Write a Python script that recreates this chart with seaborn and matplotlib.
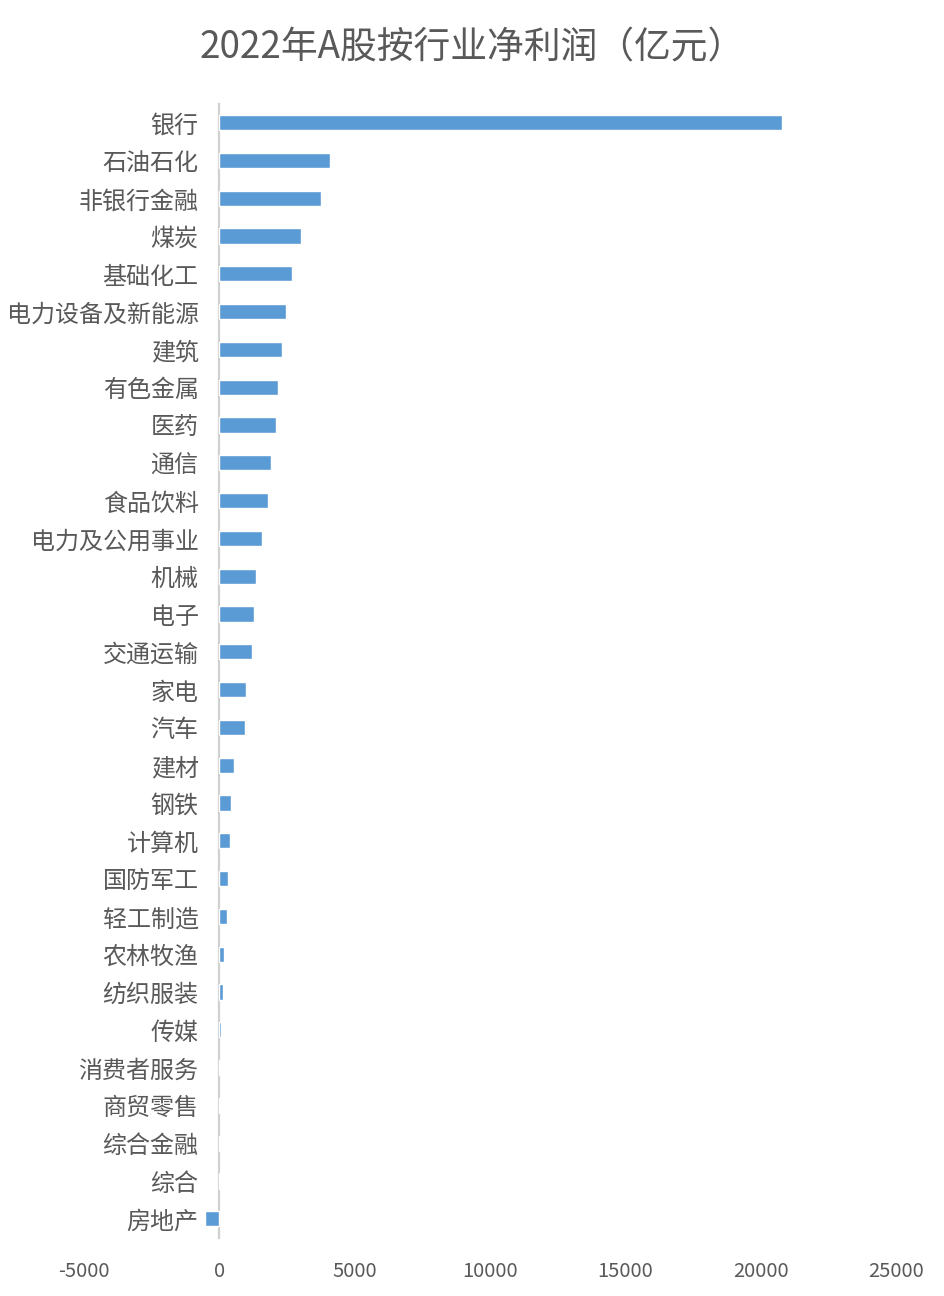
import matplotlib
matplotlib.use("Agg")
import matplotlib.pyplot as plt
import seaborn as sns
import pandas as pd

# 2022 A-share net profit by industry (100 million yuan)
industries = ["银行", "石油石化", "非银行金融", "煤炭", "基础化工", "电力设备及新能源",
              "建筑", "有色金属", "医药", "通信", "食品饮料", "电力及公用事业",
              "机械", "电子", "交通运输", "家电", "汽车", "建材", "钢铁", "计算机",
              "国防军工", "轻工制造", "农林牧渔", "纺织服装", "传媒", "消费者服务",
              "商贸零售", "综合金融", "综合", "房地产"]
profit = [20800, 4100, 3770, 3030, 2690, 2450,
          2330, 2180, 2080, 1920, 1810, 1590,
          1370, 1280, 1220, 1000, 960, 530, 445, 405,
          300, 295, 185, 150, 70, 30,
          25, 25, 5, -520]
xticks = [-5000, 0, 5000, 10000, 15000, 20000, 25000]

df = pd.DataFrame({"industry": industries, "profit": profit})

sns.set_style("white")
plt.rcParams["font.family"] = ["Noto Sans CJK SC", "DejaVu Sans"]
text_color = "#595959"

fig = plt.figure(figsize=(9.45, 12.96), dpi=100)
ax = fig.add_axes([0.089, 0.045, 0.859, 0.875])

sns.barplot(data=df, x="profit", y="industry", orient="h", color="#5B9BD5",
            width=0.4, saturation=1, ax=ax)

ax.set_xlim(-5000, 25000)
ax.set_xticks(xticks)
ax.set_xticklabels([str(t) for t in xticks])
ax.set_xlabel("")
ax.set_ylabel("")

# category axis sits at zero, labels follow it
for s in ["top", "right", "bottom"]:
    ax.spines[s].set_visible(False)
ax.spines["left"].set_position(("data", 0))
ax.spines["left"].set_color("#D0D0D0")
ax.spines["left"].set_linewidth(1.6)
ax.spines["left"].set_zorder(0)

ax.tick_params(axis="y", length=0, pad=15, labelsize=17.3, labelcolor=text_color)
ax.tick_params(axis="x", length=0, pad=17, labelsize=14.5, labelcolor=text_color)

fig.suptitle("2022年A股按行业净利润（亿元）", fontsize=26.5, color=text_color, y=0.978)

fig.savefig("out.png", dpi=100)
